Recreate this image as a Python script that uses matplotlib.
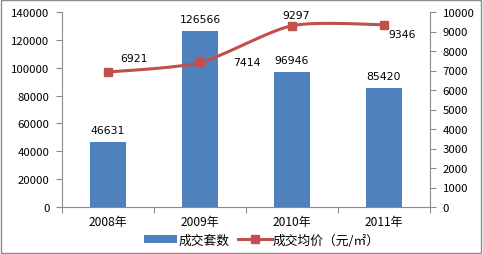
import matplotlib.pyplot as plt
import numpy as np
from matplotlib.patches import Rectangle

plt.rcParams['font.family'] = ['Noto Sans CJK SC', 'DejaVu Sans']

years = ['2008年', '2009年', '2010年', '2011年']
units = [46631, 126566, 96946, 85420]
price = [6921, 7414, 9297, 9346]
# label offsets (px) for the price labels
price_off = [(26, 14), (47, 0), (4, 11), (18, -9)]


def smooth(xs, ys, n=30, k=8.0):
    # Catmull-Rom style smoothing like the office chart line
    P = np.column_stack([np.asarray(xs, float), np.asarray(ys, float)])
    P = np.vstack([P[0], P, P[-1]])
    out = []
    t = np.linspace(0, 1, n)[:, None]
    for i in range(1, len(P) - 2):
        p0, p1, p2, p3 = P[i - 1], P[i], P[i + 1], P[i + 2]
        c1 = p1 + (p2 - p0) / k
        c2 = p2 - (p3 - p1) / k
        seg = ((1 - t) ** 3) * p1 + 3 * ((1 - t) ** 2) * t * c1 + 3 * (1 - t) * t ** 2 * c2 + t ** 3 * p2
        out.append(seg if i == 1 else seg[1:])
    out = np.vstack(out)
    return out[:, 0], out[:, 1]


px = 0.72
fig = plt.figure(figsize=(4.83, 2.55), dpi=100)
fig.patches.append(Rectangle((0.003, 0.005), 0.993, 0.99, transform=fig.transFigure,
                             fill=False, edgecolor='#8c8c8c', linewidth=1))
ax = fig.add_axes([62/483, 1-208/255, 368/483, 195/255])
x = np.arange(len(years))
bars = ax.bar(x, units, width=0.4, color='#4F81BD', label='成交套数')
for xi, v in zip(x, units):
    ax.annotate(str(v), (xi, v), xytext=(0, 5), textcoords='offset points',
                ha='center', va='bottom', fontsize=7.8, family=['DejaVu Sans'])
ax.set_xlim(-0.5, 3.5)
ax.set_ylim(0, 140000)
ax.set_yticks(np.arange(0, 140001, 20000))
ax.set_xticks(np.arange(-0.5, 3.6, 1))
ax.set_xticklabels([])
ax.set_xticks(x, minor=True)
ax.set_xticklabels(years, minor=True, fontsize=8.6)
ax.tick_params(axis='x', which='minor', length=0, pad=6)
ax.tick_params(axis='x', which='major', length=4, direction='out', color='#8c8c8c')
ax.tick_params(axis='y', length=4, direction='out', color='#8c8c8c', labelsize=8.2, pad=5)
for s in ['top', 'right']:
    ax.spines[s].set_visible(False)
for s in ['left', 'bottom']:
    ax.spines[s].set_color('#8c8c8c')

ax2 = ax.twinx()
sx, sy = smooth(x, price)
ax2.plot(sx, sy, color='#C0504D', linewidth=2.2)
ax2.plot(x, price, linestyle='none', color='#C0504D', marker='s', markersize=6)
line, = ax2.plot([], [], color='#C0504D', linewidth=2.2, marker='s', markersize=6)
for xi, v, (dx, dy) in zip(x, price, price_off):
    ax2.annotate(str(v), (xi, v), xytext=(dx*px, dy*px), textcoords='offset points',
                 ha='center', va='center', fontsize=7.8, family=['DejaVu Sans'])
ax2.set_ylim(0, 10000)
ax2.set_yticks(np.arange(0, 10001, 1000))
ax2.tick_params(axis='y', length=4, direction='out', color='#8c8c8c', labelsize=8.2, pad=5)
for s in ['top', 'left', 'bottom']:
    ax2.spines[s].set_visible(False)
ax2.spines['right'].set_color('#8c8c8c')

fig.legend([bars, line], ['成交套数', '成交均价（元/㎡）'], loc='center',
           bbox_to_anchor=(262/483, 1-241/255), ncol=2, frameon=False, fontsize=9.2,
           handlelength=2.6, handleheight=0.5, handletextpad=0.1, columnspacing=0.7)

fig.savefig('out.png', dpi=100)
